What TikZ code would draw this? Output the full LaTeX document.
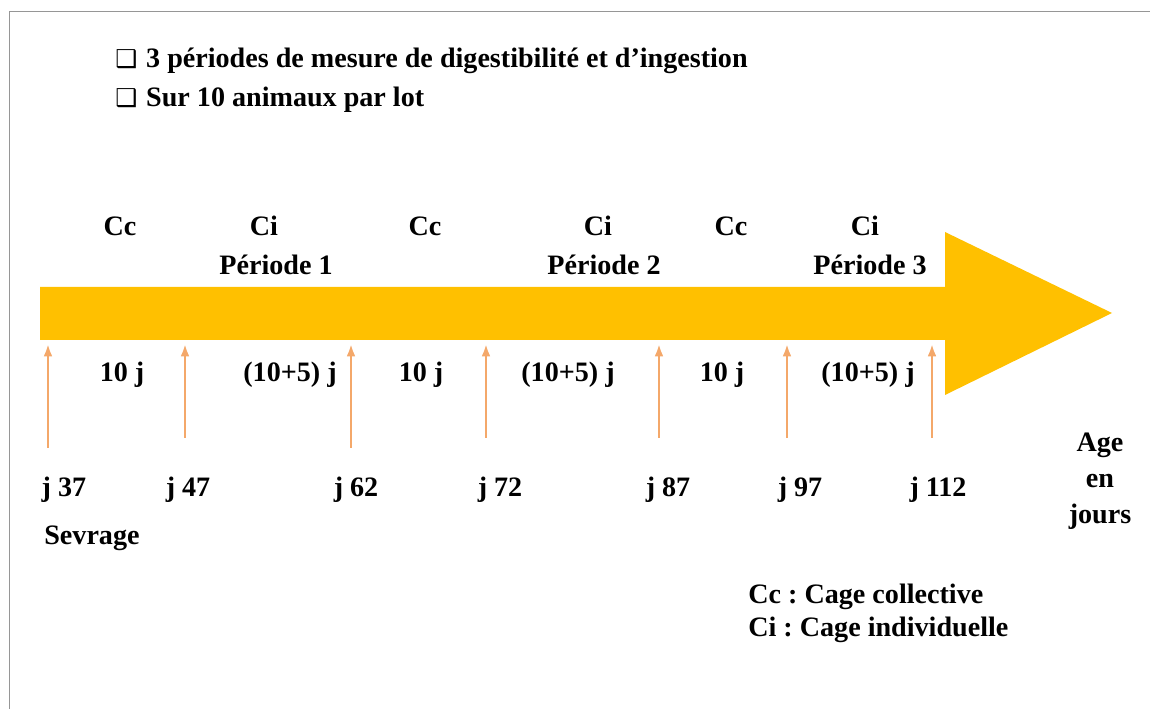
\documentclass[tikz,border=0pt]{standalone}
\usepackage{fontspec}
\setmainfont{Liberation Serif}
\newfontfamily\symfont{DejaVu Sans}
\usetikzlibrary{arrows.meta,positioning,calc}
\definecolor{gold}{RGB}{255,192,0}
\definecolor{tickorange}{RGB}{244,168,106}
\definecolor{framegray}{RGB}{150,150,150}
\newcommand{\boxbullet}{{\normalfont\symfont\fontsize{14}{16}\selectfont ❑}\hspace{5pt}}
\frenchspacing
\tikzset{
	lbl/.style = {
			font = \bfseries\fontsize{16}{20.5}\selectfont,
			inner sep = 0pt,
		},
	small lbl/.style = {
			font = \bfseries\fontsize{16}{19}\selectfont,
			inner sep = 0pt,
			anchor = west,
		},
	tick/.style = {
			draw = tickorange,
			line width = 1.3pt,
			-{Latex[length=7pt,width=5pt]},
		}
}

\begin{document}
\begin{tikzpicture}[x=0.02cm,y=-0.02cm]
		\useasboundingbox (0,0) rectangle (1150,709);
		\draw[framegray] (9,709) -- (9,11) -- (1150,11);

		% en-tete
		\node[small lbl] (bul1) at (115,61) {\boxbullet 3 périodes de mesure de digestibilité et d'ingestion};
		\node[small lbl] (bul2) at (115,100) {\boxbullet Sur 10 animaux par lot};

		% fleche du temps
		\fill[gold] (40,287) -- (945,287) -- (945,232) -- (1112,313)
		-- (945,395) -- (945,340) -- (40,340) -- cycle;

		% logement et periodes
		\foreach \x/\A/\n in {120/Cc/1, 264/Ci/2, 425/Cc/3, 598/Ci/4, 731/Cc/5, 865/Ci/6}
		\node[lbl] (cage\n) at (\x,226) {\A};
		\foreach \x/\A in {276/1, 604/2, 870/3}
		\node[lbl] (per\A) at (\x,265) {Période \A};

		% durees
		\foreach \x/\A/\n in {122/10 j/1, 290/(10+5) j/2, 421/10 j/3, 568/(10+5) j/4, 722/10 j/5, 868/(10+5) j/6}
		\node[lbl] (dur\n) at (\x,375) {\A};

		% ages
		\foreach \x/\lx/\yb/\d in {48/64/448/37, 185/188/438/47, 351/356/448/62, 486/500/438/72,
				659/668/438/87, 787/800/438/97, 932/938/438/112} {
				\coordinate (foot\d) at (\x,\yb);
				\coordinate (head\d) at (\x,344);
				\draw[tick] (foot\d) -- (head\d);
				\node[lbl] (j\d) at (\lx,490) {j \d};
			}
		\node[lbl, anchor=north west] (sevrage) at (44,526) {Sevrage};
		\node[lbl, align=center] (age) at (1100,481) {Age\\en\\jours};

		% legende
		\node[small lbl] (leg1) at (748,597) {Cc : Cage collective};
		\node[small lbl] (leg2) at (748,630) {Ci : Cage individuelle};
	\end{tikzpicture}
\end{document}
